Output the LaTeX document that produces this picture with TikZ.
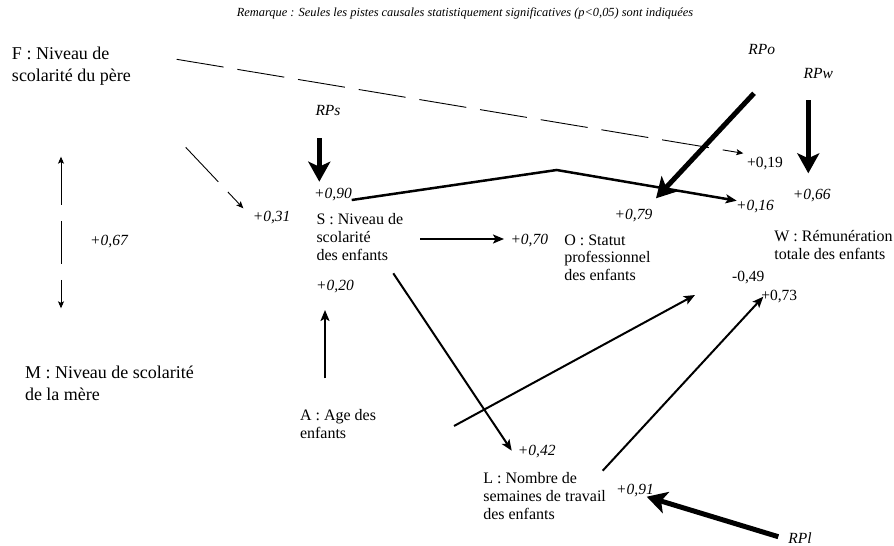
\documentclass[tikz,border=0pt]{standalone}
\usepackage{fontspec}
\setmainfont{Liberation Serif}
\usetikzlibrary{arrows.meta}
\begin{document}
\begin{tikzpicture}[x=1pt,y=-1pt,
  every node/.style={inner sep=0pt,outer sep=0pt},
  % multi-line nodes are placed by the baseline of their last line
  bigvar/.style={anchor=base west,align=left,font=\fontsize{18}{22}\selectfont},
  var/.style={anchor=base west,align=left,font=\fontsize{16}{17.8}\selectfont},
  coef/.style={anchor=base,font=\itshape\fontsize{15.5}{17}\selectfont},
  coefup/.style={anchor=base,font=\fontsize{15.5}{17}\selectfont},
  resid/.style={anchor=base,font=\itshape\fontsize{15.5}{17}\selectfont},
  longdash/.style={dash pattern=on 47.5pt off 14pt},
  thinarrow/.style={line width=0.9pt,-{Stealth[length=7pt,width=6pt,inset=1.5pt]}},
  midarrow/.style={line width=2pt,-{Stealth[length=11pt,width=9pt,inset=2.5pt]}},
  bigarrow/.style={line width=5pt,-{Stealth[length=20pt,width=22pt,inset=5pt]}}
]
\useasboundingbox (0,0) rectangle (894,546);

% heading
\node[anchor=base,font=\itshape\fontsize{12.4}{14}\selectfont] (note) at (465,16.5)
  {Remarque : Seules les pistes causales statistiquement significatives (p<0,05) sont indiquées};

% variables
\node[bigvar] (F) at (12,81.7) {F : Niveau de\\scolarité du père};
\node[bigvar] (M) at (25,400.5) {M : Niveau de scolarité\\de la mère};
\node[var] (S) at (316.5,260) {S : Niveau de\\scolarité\\des enfants};
\node[var] (O) at (564.3,280.7) {O : Statut\\professionnel\\des enfants};
\node[var] (W) at (774.3,259.5) {W : Rémunération\\totale des enfants};
\node[var] (A) at (300,438) {A : Age des\\enfants};
\node[var] (L) at (483.3,519) {L : Nombre de\\semaines de travail\\des enfants};

% residual terms
\node[resid] (RPs) at (328,115) {RPs};
\node[resid] (RPo) at (761.7,54.5) {RPo};
\node[resid] (RPw) at (818.3,78.5) {RPw};
\node[resid] (RPl) at (800,543) {RPl};

% path coefficients
\node[coef] (c90) at (333,198.3) {+0,90};
\node[coef] (c31) at (271.7,221) {+0,31};
\node[coef] (c67) at (109,245.5) {+0,67};
\node[coef] (c20) at (335,290) {+0,20};
\node[coef] (c70) at (529.3,244.5) {+0,70};
\node[coef] (c79) at (633.5,219.3) {+0,79};
\node[coef] (c16) at (755,210.5) {+0,16};
\node[coef] (c66) at (811.7,199.5) {+0,66};
\node[coef] (c42) at (536.7,455) {+0,42};
\node[coef] (c91) at (635,494) {+0,91};
\node[coefup] (c19) at (765,167) {+0,19};
\node[coefup] (c49) at (748.3,281.5) {-0,49};
\node[coefup] (c73) at (779.3,300.5) {+0,73};

% connector end points
\coordinate (F-w) at (176.7,59.3);
\coordinate (w-19) at (743.3,153.3);
\coordinate (F-s) at (185.7,147.3);
\coordinate (s-31) at (243.3,208.3);
\coordinate (m-top) at (61,156.7);
\coordinate (m-bot) at (61,308.3);
\coordinate (S-w) at (351.7,200);
\coordinate (bend) at (556.7,170);
\coordinate (w-16) at (736.7,200.7);
\coordinate (S-o) at (420,239);
\coordinate (o-70) at (504,239);
\coordinate (A-s) at (325,378.3);
\coordinate (s-20) at (325,310);
\coordinate (S-l) at (393.3,273.3);
\coordinate (l-42) at (511.7,450.7);
\coordinate (A-o) at (454,426);
\coordinate (o-49) at (695,295);
\coordinate (L-w) at (602.7,470.7);
\coordinate (w-73) at (763.3,296.7);
\coordinate (RPs-a) at (319.3,138);
\coordinate (s-90) at (319.3,181.7);
\coordinate (RPo-a) at (754,93.3);
\coordinate (o-79) at (656,198.3);
\coordinate (RPw-a) at (808.3,100);
\coordinate (w-66) at (808.3,173.3);
\coordinate (RPl-a) at (778.3,536.7);
\coordinate (l-91) at (646.7,496.7);

% thin dashed paths
\draw[thinarrow,longdash] (F-w) -- (w-19);
\draw[thinarrow,longdash] (F-s) -- (s-31);
\draw[line width=0.9pt,{Stealth[length=7pt,width=6pt,inset=1.5pt]}-{Stealth[length=7pt,width=6pt,inset=1.5pt]},dash pattern=on 43pt off 16pt] (m-top) -- (m-bot);

% direct paths
\draw[midarrow,line width=2.5pt] (S-w) -- (bend) -- (w-16);
\draw[midarrow] (S-o) -- (o-70);
\draw[midarrow] (A-s) -- (s-20);
\draw[midarrow] (S-l) -- (l-42);
\draw[midarrow] (A-o) -- (o-49);
\draw[midarrow] (L-w) -- (w-73);

% residual paths
\draw[bigarrow] (RPs-a) -- (s-90);
\draw[bigarrow] (RPo-a) -- (o-79);
\draw[bigarrow] (RPw-a) -- (w-66);
\draw[bigarrow] (RPl-a) -- (l-91);
\end{tikzpicture}
\end{document}
